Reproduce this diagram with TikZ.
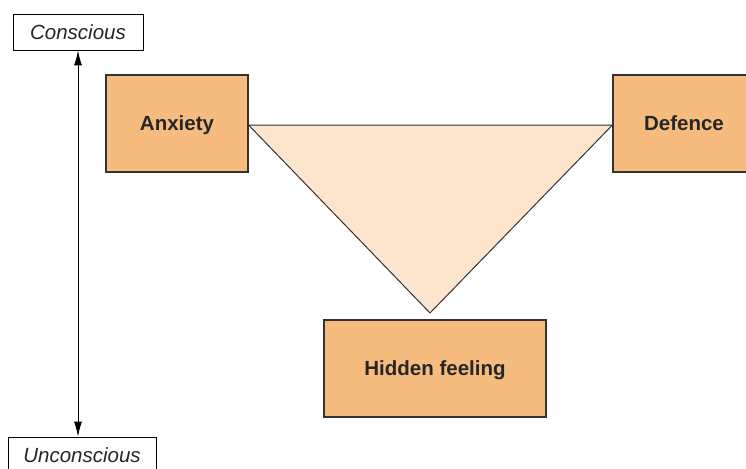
\documentclass[tikz,border=0pt]{standalone}
\usepackage{fontspec}
\setmainfont{Liberation Sans}
\usetikzlibrary{arrows.meta}
\definecolor{boxfill}{HTML}{F6BC7F}
\definecolor{trifill}{HTML}{FDE5CD}
\definecolor{edge}{HTML}{333333}
\tikzset{scaletip/.tip={Latex[length=15pt,width=8pt]}}
\begin{document}
\begin{tikzpicture}[x=1pt,y=-1pt,
  levelbox/.style={draw=black, line width=0.9pt, fill=white, inner sep=0pt,
    minimum height=36pt, text height=14.7pt, text depth=0pt,
    font=\fontsize{20.5}{24}\selectfont\itshape, text=black!85},
  termbox/.style={draw=edge, line width=1.1pt, fill=boxfill, inner sep=0pt,
    minimum width=142pt, minimum height=97pt, text height=14.7pt, text depth=0pt,
    font=\fontsize{20.5}{24}\selectfont\bfseries, text=black!85}]
  \clip (0,0) rectangle (746,468);
  % awareness scale
  \node[levelbox, minimum width=130pt] (conscious) at (78,32) {Conscious};
  \node[levelbox, minimum width=148pt] (unconscious) at (82,455) {Unconscious};
  \draw[line width=0.9pt, scaletip-scaletip]
    (conscious.south) -- (conscious.south |- unconscious.north);
  % triangle of conflict
  \node[termbox] (anxiety) at (177,123.5) {Anxiety};
  \node[termbox] (defence) at (684,123.5) {Defence};
  \node[termbox, minimum width=222pt] (hidden) at (435,368.5) {Hidden feeling};
  \coordinate (apex) at (430,313);
  \draw[edge, line width=1pt, fill=trifill, line join=miter]
    (anxiety.east |- 0,125) -- (defence.west |- 0,125) -- (apex) -- cycle;
\end{tikzpicture}
\end{document}
